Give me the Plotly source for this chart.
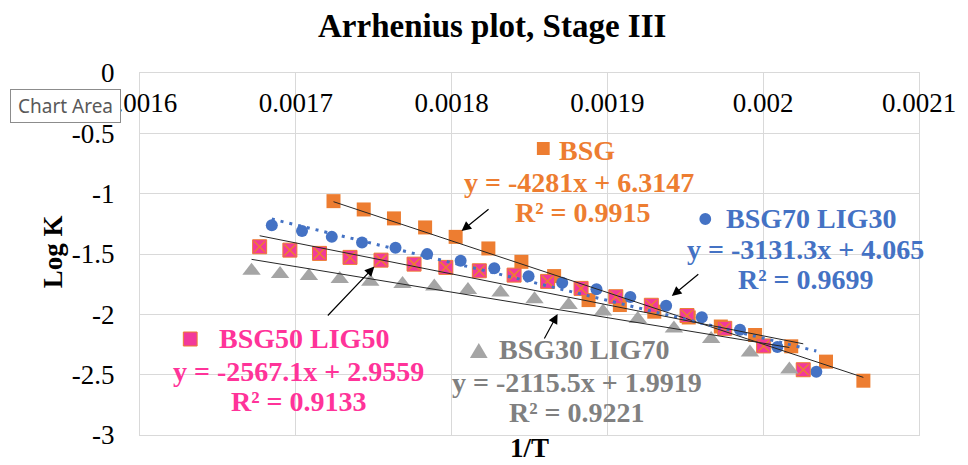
import plotly.graph_objects as go

# ---------------- data ----------------
bsg_x = [0.0017242, 0.0017436, 0.0017630, 0.0017830, 0.0018026, 0.0018236, 0.0018448, 0.0018658,
         0.0018879, 0.0019080, 0.0019301, 0.0019522, 0.0019728, 0.0019948, 0.0020180, 0.0020403, 0.0020643]
bsg_y = [-1.062, -1.131, -1.205, -1.280, -1.358, -1.454, -1.565, -1.683,
         -1.882, -1.923, -1.978, -2.026, -2.101, -2.171, -2.265, -2.392, -2.550]

b70_x = [0.0016846, 0.0017040, 0.0017231, 0.0017425, 0.0017640, 0.0017843, 0.0018058, 0.0018274,
         0.0018494, 0.0018710, 0.0018930, 0.0019147, 0.0019377, 0.0019606, 0.0019851, 0.0020091, 0.0020341]
b70_y = [-1.261, -1.310, -1.358, -1.404, -1.449, -1.501, -1.556, -1.619,
         -1.685, -1.738, -1.793, -1.857, -1.929, -2.025, -2.127, -2.271, -2.475]

b50_x = [0.0016768, 0.0016962, 0.0017152, 0.0017348, 0.0017547, 0.0017759, 0.0017963, 0.0018178,
         0.0018401, 0.0018616, 0.0018831, 0.0019054, 0.0019282, 0.0019511, 0.0019753, 0.0020003, 0.0020257]
b50_y = [-1.440, -1.468, -1.495, -1.528, -1.551, -1.584, -1.611, -1.639,
         -1.675, -1.727, -1.785, -1.854, -1.925, -2.010, -2.116, -2.262, -2.459]

b30_x = [0.0016716, 0.0016899, 0.0017084, 0.0017282, 0.0017478, 0.0017685, 0.0017889, 0.0018105,
         0.0018314, 0.0018532, 0.0018751, 0.0018972, 0.0019195, 0.0019427, 0.0019666, 0.0019915, 0.0020168]
b30_y = [-1.638, -1.665, -1.682, -1.707, -1.729, -1.748, -1.770, -1.798,
         -1.820, -1.874, -1.922, -1.977, -2.038, -2.118, -2.205, -2.317, -2.458]

# trendline equations (slope, intercept) and labels
fits = {
    "BSG": (-4281.0, 6.3147, "y = -4281x + 6.3147", "R² = 0.9915"),
    "BSG70 LIG30": (-3131.3, 4.065, "y = -3131.3x + 4.065", "R² = 0.9699"),
    "BSG50 LIG50": (-2567.1, 2.9559, "y = -2567.1x + 2.9559", "R² = 0.9133"),
    "BSG30 LIG70": (-2115.5, 1.9919, "y = -2115.5x + 1.9919", "R² = 0.9221"),
}

x_ticks = [0.0016, 0.0017, 0.0018, 0.0019, 0.0020, 0.0021]
x_ticktext = ["0.0016", "0.0017", "0.0018", "0.0019", "0.002", "0.0021"]
y_ticks = [0, -0.5, -1, -1.5, -2, -2.5, -3]
y_ticktext = ["0", "-0.5", "-1", "-1.5", "-2", "-2.5", "-3"]

# ---------------- styles ----------------
W, H = 968, 465
L, R, T, B = 140, 37, 73, 30
PW, PH = W - L - R, H - T - B
ORANGE = "#ED7D31"
BLUE = "#4472C4"
PINK = "#FF3399"
PINKFILL = "#F2399B"
GRAYM = "#A5A5A5"
GRAYT = "#808080"
SERIF = "Liberation Serif, Times New Roman, serif"


def px(xp):
    return (xp - L) / PW


def py(yp):
    return (H - B - yp) / PH


def trend(name, xs):
    m, c = fits[name][0], fits[name][1]
    x0, x1 = min(xs), max(xs)
    return [x0, x1], [m * x0 + c, m * x1 + c]


fig = go.Figure()

fig.add_trace(go.Scatter(x=bsg_x, y=bsg_y, mode="markers",
                         marker=dict(symbol="square", size=14, color=ORANGE, line=dict(width=0))))
fig.add_trace(go.Scatter(x=b70_x, y=b70_y, mode="markers",
                         marker=dict(symbol="circle", size=12, color=BLUE, line=dict(width=0))))
fig.add_trace(go.Scatter(x=b50_x, y=b50_y, mode="markers",
                         marker=dict(symbol="square", size=14, color=PINKFILL, line=dict(width=1, color=ORANGE))))
fig.add_trace(go.Scatter(x=b50_x, y=b50_y, mode="markers",
                         marker=dict(symbol="x-thin", size=11, line=dict(width=1.5, color=ORANGE))))
fig.add_trace(go.Scatter(x=b30_x, y=b30_y, mode="markers",
                         marker=dict(symbol="triangle-up", size=16, color=GRAYM, line=dict(width=0))))

tx, ty = trend("BSG", bsg_x)
fig.add_trace(go.Scatter(x=tx, y=ty, mode="lines", line=dict(color="#262626", width=1)))
tx, ty = trend("BSG70 LIG30", b70_x)
fig.add_trace(go.Scatter(x=tx, y=ty, mode="lines", line=dict(color=BLUE, width=3, dash="3px,6px")))
tx, ty = trend("BSG50 LIG50", b50_x)
fig.add_trace(go.Scatter(x=tx, y=ty, mode="lines", line=dict(color="#262626", width=1)))
tx, ty = trend("BSG30 LIG70", b30_x)
fig.add_trace(go.Scatter(x=tx, y=ty, mode="lines", line=dict(color="#262626", width=1)))

ann = []


def text(x, y, s, color, size=28, anchor="center", bold=True, family=SERIF, yanchor="middle", **kw):
    ann.append(dict(xref="paper", yref="paper", x=px(x), y=py(y), text=(f"<b>{s}</b>" if bold else s),
                    showarrow=False, xanchor=anchor, yanchor=yanchor,
                    font=dict(family=family, size=size, color=color), **kw))


def arrow(tipx, tipy, tailx, taily):
    ann.append(dict(xref="paper", yref="paper", x=px(tipx), y=py(tipy), text="",
                    showarrow=True, ax=tailx - tipx, ay=taily - tipy,
                    arrowhead=2, arrowsize=1.6, arrowwidth=1.2, arrowcolor="#000000"))


# BSG label block
text(563, 150, "BSG", ORANGE, anchor="left")
text(586, 182, fits["BSG"][2], ORANGE)
text(590, 212, fits["BSG"][3], ORANGE)
# BSG70 LIG30
text(733, 218, "BSG70 LIG30", BLUE, anchor="left")
text(816, 249, fits["BSG70 LIG30"][2], BLUE)
text(816, 279, fits["BSG70 LIG30"][3], BLUE)
# BSG50 LIG50
text(218, 338, "BSG50 LIG50", PINK, anchor="left")
text(301, 371, fits["BSG50 LIG50"][2], PINK)
text(301, 401, fits["BSG50 LIG50"][3], PINK)
# BSG30 LIG70
text(502, 349, "BSG30 LIG70", GRAYT, anchor="left")
text(584, 382, fits["BSG30 LIG70"][2], GRAYT)
text(584, 412, fits["BSG30 LIG70"][3], GRAYT)

arrow(466.5, 231, 495, 208)
arrow(680, 296, 708, 273)
arrow(378, 266.5, 330, 317)
arrow(564, 314, 550, 340)

# axis titles and main title
text(497, 26, "Arrhenius plot, Stage III", "#000000", size=33)
text(536, 465, "1/T", "#000000", size=27, yanchor="bottom")
ann.append(dict(xref="paper", yref="paper", x=px(52), y=py(252), text="<b>Log K</b>", textangle=-90,
                showarrow=False, xanchor="center", yanchor="middle",
                font=dict(family=SERIF, size=27, color="#000000")))

# Chart Area tooltip
ann.append(dict(xref="paper", yref="paper", x=px(8), y=py(106), text="Chart Area", showarrow=False,
                xanchor="left", yanchor="middle", width=105, height=28, borderpad=2, borderwidth=1,
                bordercolor="#8C8C8C", bgcolor="#FFFFFF",
                font=dict(family="Noto Sans, sans-serif", size=19, color="#595959")))

# legend-key shapes
shapes = []


def rect(x0, y0, x1, y1, fill, line_color=None):
    shapes.append(dict(type="rect", xref="paper", yref="paper", x0=px(x0), x1=px(x1), y0=py(y1), y1=py(y0),
                       fillcolor=fill, line=dict(color=line_color or fill, width=1 if line_color else 0),
                       layer="above"))


rect(543, 142, 556, 155, ORANGE)
rect(184, 332, 198, 346, PINKFILL, ORANGE)
shapes.append(dict(type="circle", xref="paper", yref="paper", x0=px(708), x1=px(720), y0=py(225), y1=py(213),
                   fillcolor=BLUE, line=dict(width=0), layer="above"))
shapes.append(dict(type="path", xref="paper", yref="paper",
                   path=f"M {px(475)},{py(358)} L {px(493)},{py(358)} L {px(484)},{py(343)} Z",
                   fillcolor=GRAYM, line=dict(width=0), layer="above"))

fig.update_layout(
    width=W, height=H,
    margin=dict(l=L, r=R, t=T, b=B, pad=0),
    paper_bgcolor="#FFFFFF", plot_bgcolor="#FFFFFF",
    showlegend=False,
    annotations=ann, shapes=shapes,
    xaxis=dict(range=[0.0016, 0.0021], side="top", tickvals=x_ticks, ticktext=x_ticktext,
               ticklabelposition="inside", ticklabeloverflow="allow", ticklabelstandoff=23,
               showgrid=True, gridcolor="#D9D9D9", gridwidth=1, zeroline=False,
               showline=True, linecolor="#D9D9D9", mirror=True, ticks="",
               tickfont=dict(family=SERIF, size=27, color="#000000")),
    yaxis=dict(range=[-3, 0], tickvals=y_ticks, ticktext=y_ticktext,
               showgrid=True, gridcolor="#D9D9D9", gridwidth=1, zeroline=False,
               showline=True, linecolor="#D9D9D9", mirror=True, ticks="", ticklabelstandoff=19,
               tickfont=dict(family=SERIF, size=27, color="#000000")),
)

fig.write_html("out.html")
